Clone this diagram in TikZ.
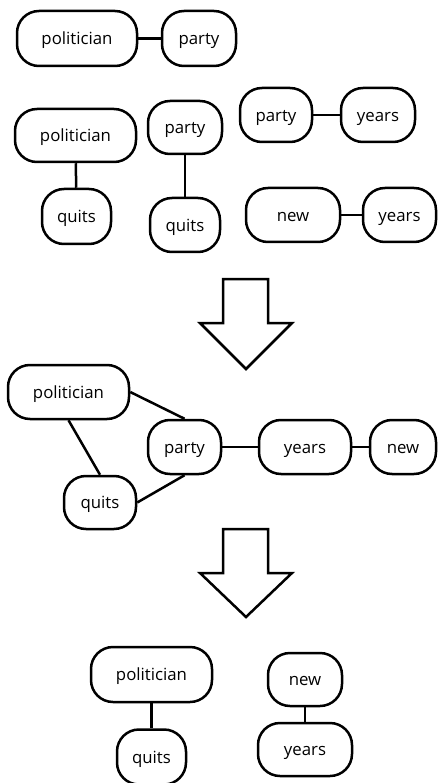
\documentclass[tikz,border=0pt]{standalone}
\usepackage{fontspec}
\setmainfont{Open Sans}
\begin{document}
\begin{tikzpicture}[x=1pt,y=-1pt,
  term/.style={draw, line width=2.5pt, rounded corners=22pt, inner sep=0pt,
    text height=12.5pt, text depth=0pt,
    font=\fontsize{16.8}{18}\selectfont, fill=white},
  link/.style={line width=2.5pt},
  flow/.style={draw, line width=2.5pt, miter limit=10}]
\useasboundingbox (0,0) rectangle (438,783);

% first row: politician -- party
\node[term, minimum width=120pt, minimum height=55pt] (pA) at (77,38.5) {politician};
\node[term, minimum width=74pt, minimum height=55pt] (ptA) at (199,38.5) {party};
\draw[link] (pA) -- (ptA);

% second block of pairs
\node[term, minimum width=121pt, minimum height=53pt] (pB) at (75.5,135.5) {politician};
\node[term, minimum width=69pt, minimum height=55pt] (qB) at (76.5,216.5) {quits};
\draw[link] (pB) -- (qB);

\node[term, minimum width=74pt, minimum height=53pt] (ptC) at (185,127.5) {party};
\node[term, minimum width=70pt, minimum height=54pt] (qC) at (185,225) {quits};
\draw[link] (ptC) -- (qC);

\node[term, minimum width=72pt, minimum height=54pt] (ptD) at (276,115) {party};
\node[term, minimum width=74pt, minimum height=54pt] (yD) at (378,115) {years};
\draw[link] (ptD) -- (yD);

\node[term, minimum width=94pt, minimum height=54pt] (nE) at (293,215) {new};
\node[term, minimum width=73pt, minimum height=54pt] (yE) at (399.5,215) {years};
\draw[link] (nE) -- (yE);

% merge arrow
\draw[flow] (223,279) -- (268,279) -- (268,323) -- (292,323) -- (246,369)
  -- (200,323) -- (223,323) -- cycle;

% merged graph
\node[term, minimum width=121pt, minimum height=54pt] (pF) at (68.5,392) {politician};
\node[term, minimum width=73pt, minimum height=54pt] (ptF) at (184.5,447) {party};
\node[term, minimum width=92pt, minimum height=54pt] (yF) at (305,447) {years};
\node[term, minimum width=66pt, minimum height=54pt] (nF) at (403,447) {new};
\node[term, minimum width=72pt, minimum height=53pt] (qF) at (100,502.5) {quits};
\draw[link] (pF.east) -- (ptF.north);
\draw[link] (pF.south) -- (qF.north);
\draw[link] (qF.east) -- (ptF.south);
\draw[link] (ptF) -- (yF);
\draw[link] (yF) -- (nF);

% split arrow
\draw[flow] (223,529) -- (268,529) -- (268,573) -- (292,573) -- (246,617)
  -- (200,573) -- (223,573) -- cycle;

% resulting components
\node[term, minimum width=121pt, minimum height=55pt] (pG) at (151.5,674.5) {politician};
\node[term, minimum width=69pt, minimum height=55pt] (qG) at (151.5,757) {quits};
\draw[link] (pG) -- (qG);

\node[term, minimum width=74pt, minimum height=53pt] (nG) at (305,679.5) {new};
\node[term, minimum width=94pt, minimum height=53pt] (yG) at (305,749.5) {years};
\draw[link] (nG) -- (yG);
\end{tikzpicture}
\end{document}
